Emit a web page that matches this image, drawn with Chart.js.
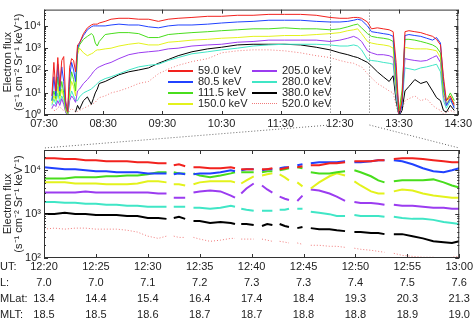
<!DOCTYPE html>
<html>
<head>
<meta charset="utf-8">
<script src="https://cdn.jsdelivr.net/npm/chart.js@4.4.1/dist/chart.umd.min.js"></script>
<style>
  html, body { margin: 0; padding: 0; background: #fff; }
  #wrap { position: relative; width: 474px; height: 321px; overflow: hidden; font-family: 'Liberation Sans', Arial, sans-serif; }
  #wrap canvas { position: absolute; left: 0; }
  #topChart { top: 0; }
  #lowerChart { top: 132px; }
  #overlay { top: 0; pointer-events: none; }
  .legend-item { position: absolute; height: 11px; font-size: 11px; line-height: 11px; color: #222; white-space: nowrap; }
  .legend-item .swatch { position: absolute; left: 0; top: 5px; width: 25px; border-top: 2px solid; }
  .legend-item span { position: absolute; left: 30px; top: 0; }
</style>
</head>
<body>
<div id="wrap">
  <canvas id="topChart" width="474" height="132"></canvas>
  <canvas id="lowerChart" width="474" height="189"></canvas>
  <canvas id="overlay" width="474" height="321"></canvas>
  <div id="legend"></div>
</div>
<script>
// ---- data ----
const energyLabels = ['59.0 keV', '80.5 keV', '111.5 keV', '150.0 keV', '205.0 keV', '280.0 keV', '380.0 keV', '520.0 keV'];

// upper panel: minutes after 07:30 UT
const topMinutes = [8, 10, 12, 14, 16, 18, 20, 22, 24, 26, 28, 30, 32, 34, 36, 40, 44, 48, 50, 52, 54, 56, 62, 68, 76, 86, 96, 106, 116, 126, 136, 150, 166, 180, 196, 212, 228, 244, 260, 276, 290, 300, 308, 314, 318, 322, 328, 332, 338, 344, 350, 354, 357, 360, 363, 366, 370, 376, 382, 388, 394, 398, 402, 405, 408, 412, 416];
const topTickMinutes = [0, 60, 120, 180, 240, 300, 360, 420];
const topTickLabels = ['07:30', '08:30', '09:30', '10:30', '11:30', '12:30', '13:30', '14:30'];
const topYTicks = [1, 10, 100, 1000, 10000];
const topYLabels = ['10\u2070', '10\u00b9', '10\u00b2', '10\u00b3', '10\u2074'];
const zoomStart = 290; // 12:20
const zoomEnd = 330;   // 13:00

const top59 = [7.2, 230, 12, 380, 19, 280, 420, 4.4, 1.4, 140, 340, 280, 87, 1400, 1700, 4500, 8200, 11000, 12000, 12000, 12000, 13500, 16000, 20000, 22000, 22000, 20000, 20000, 16000, 20000, 22000, 24000, 27000, 27000, 30000, 30000, 33000, 33000, 33000, 30000, 24000, 22000, 22000, 24000, 24000, 22000, 15000, 7400, 8200, 7400, 6700, 5500, 230, 0.9, 4.4, 5500, 6100, 5500, 5000, 4100, 3400, 2500, 1400, 52, 4.4, 7.2, 2.7];
const top80 = [4.4, 52, 7.2, 190, 12, 145, 32, 2.7, 1.35, 52, 230, 105, 32, 1000, 1700, 3700, 6700, 9100, 10000, 10000, 10000, 10000, 10000, 11000, 12000, 11000, 11000, 9100, 8200, 10000, 11000, 11000, 12000, 13500, 15000, 16000, 18000, 18000, 18000, 16000, 15000, 15000, 16000, 18000, 20000, 18000, 10000, 5500, 5000, 4500, 4100, 3400, 87, 0.9, 2.7, 3700, 4100, 3700, 3400, 2800, 2300, 3000, 1700, 32, 2.7, 5.4, 2.0];
const top111 = [4.4, 12, 5.4, 52, 7.2, 32, 9.8, 2.0, 1.2, 19, 87, 39, 12, 760, 1400, 2500, 3400, 4500, 3700, 1700, 1250, 2000, 4100, 4500, 5000, 5000, 4500, 3000, 3000, 4100, 4500, 5000, 5500, 6100, 6700, 7400, 7400, 8200, 7400, 7400, 6700, 7400, 9100, 11000, 12000, 8200, 4500, 3400, 3000, 2800, 2500, 2000, 32, 1.6, 12, 2500, 2500, 2300, 2000, 1700, 1400, 1100, 620, 12, 4.4, 9.8, 4.4];
const top150 = [3.3, 7.2, 4.4, 19, 5.4, 14.5, 6.3, 1.6, 1.1, 9.8, 32, 19, 7.2, 510, 1000, 620, 460, 560, 620, 760, 840, 840, 930, 1000, 1250, 1500, 1700, 1400, 1400, 1850, 2000, 2300, 2500, 2800, 3000, 3400, 3400, 3700, 3700, 4100, 4500, 5000, 6100, 6700, 7400, 4500, 2000, 1700, 1500, 1400, 1250, 1000, 19, 1.35, 7.2, 1100, 1000, 930, 930, 930, 840, 760, 380, 9.8, 3.0, 7.2, 3.3];
const top205 = [2.0, 3.0, 2.4, 4.4, 2.7, 5.4, 3.0, 1.35, 0.9, 4.4, 7.2, 5.4, 3.7, 12, 14.5, 26, 39, 64, 87, 105, 130, 145, 190, 230, 340, 510, 620, 690, 760, 930, 1000, 1250, 1400, 1500, 1850, 2000, 2300, 2300, 2300, 2300, 2000, 2300, 2800, 3400, 2800, 2000, 760, 620, 510, 510, 460, 380, 12, 1.2, 4.4, 340, 310, 280, 260, 280, 380, 460, 230, 7.2, 2.7, 6.0, 3.3];
const top280 = [2.7, 5.4, 3.0, 9.8, 3.7, 7.2, 4.4, 1.35, 0.9, 5.4, 12, 7.2, 4.4, 4.4, 6.5, 9.8, 12, 14.5, 18, 21, 26, 32, 43, 52, 71, 105, 145, 170, 190, 280, 380, 560, 690, 840, 1000, 1250, 1400, 1500, 1500, 1500, 1400, 1250, 1250, 1400, 1250, 840, 310, 280, 260, 230, 210, 190, 7.2, 0.9, 2.7, 130, 120, 105, 130, 145, 170, 190, 87, 4.4, 2.0, 4.4, 2.4];
const top380 = [null, null, null, null, null, null, null, null, null, null, null, null, 1.35, 2.7, 1.8, 4.4, 6.5, 3.0, 5.4, 9.8, 14.5, 26, 32, 43, 64, 87, 105, 130, 210, 310, 460, 690, 930, 1100, 1400, 1500, 1500, 1500, 1400, 1100, 840, 620, 510, 420, 380, 310, 230, 160, 87, 52, 32, 58, 4.4, 0.9, 1.6, 12, 19, 39, 26, 32, 12, 6.0, 4.4, 1.6, 1.35, 2.7, 1.6];
const top520 = [2.0, 1.6, 1.6, 2.2, 2.4, 1.8, 1.6, 1.35, 1.1, 1.6, 2.0, 1.6, 1.35, 1.45, 1.6, 2.0, 2.4, 3.0, 3.3, 3.7, 4.9, 6.0, 7.2, 9.8, 12, 17, 26, 32, 71, 115, 170, 250, 340, 620, 760, 840, 840, 760, 620, 460, 380, 280, 230, 210, 170, 145, 71, 47, 26, 18, 12, 9.8, 2.7, 0.9, 1.6, 4.4, 5.4, 7.2, 4.4, 5.4, 2.7, 2.0, 1.6, 1.1, 1.35, 1.6, 1.35];

// lower panel: minutes after 12:20 UT (null = data gap)
const lowerMinutes = [0, 1, 2, 3, 4, 5, 6, 7, 8, 9, 10, 11, 11.8, 12.1, 12.5, 13, 13.6, 14, 14.4, 15, 16, 17, 18, 18.4, 18.7, 19, 19.5, 20.2, 20.6, 21, 21.5, 22, 22.3, 22.7, 23.2, 23.6, 24, 24.4, 24.9, 25.3, 25.7, 26.5, 27.5, 28.2, 29, 29.4, 29.9, 30.5, 31.5, 32.2, 32.8, 33.2, 33.7, 34.5, 35.5, 36.5, 37.5, 38.5, 39.3, 40];
const lowerTickMinutes = [0, 5, 10, 15, 20, 25, 30, 35, 40];
const utLabels = ['12:20', '12:25', '12:30', '12:35', '12:40', '12:45', '12:50', '12:55', '13:00'];
const lLabels = ['7.0', '7.0', '7.1', '7.2', '7.3', '7.3', '7.4', '7.5', '7.6'];
const mlatLabels = ['13.4', '14.4', '15.4', '16.4', '17.4', '18.4', '19.3', '20.3', '21.3'];
const mltLabels = ['18.5', '18.5', '18.6', '18.7', '18.7', '18.8', '18.8', '18.9', '19.0'];
const rowHeadings = ['UT:', 'L:', 'MLat:', 'MLT:'];
const lowerYTicks = [100, 1000, 10000];
const lowerYLabels = ['10\u00b2', '10\u00b3', '10\u2074'];

const low59 = [18900, 18900, 18000, 18000, 17000, 17000, 16000, 16000, 16000, 15300, 15300, 14500, 14500, null, 13000, 13700, 12400, null, 11700, 11700, 11100, 11100, 11700, 11100, null, 10500, 10500, 10500, null, 10500, 10500, 11100, null, 10500, 11100, 11700, null, 11700, 12400, null, 13000, 13000, 14500, 14500, 15300, null, 16000, 16000, 16000, 17000, 17000, null, 18000, 18900, 18900, 18000, 17000, 16000, 15300, 15300];
const low80 = [11700, 11100, 10500, 10500, 10000, 9500, 9500, 9000, 9000, 9000, 8500, 8500, 8500, null, 8100, 8500, 8100, null, 8100, 8500, 8500, 9000, 10000, 9500, null, 10000, 10500, 10500, null, 10000, 10500, 10500, null, 11100, 11700, 11700, null, 13000, 13700, null, 14500, 15300, 15300, 15300, 16000, null, 15300, 15300, 16000, 17000, 17000, null, 17000, 16000, 13700, 11100, 9500, 9000, 10000, 11100];
const low111 = [6500, 6500, 6500, 6900, 6900, 6900, 7300, 7300, 7600, 7600, 8100, 9000, 9000, null, 9000, 8500, 8500, null, 8500, 7600, 6900, 7600, 8500, 9000, null, 9000, 9000, 9000, null, 9000, 9500, 9500, null, 10000, 10500, 11100, null, 11700, 11100, null, 9000, 8500, 8500, 9000, 9500, null, 10000, 9000, 7300, 5900, 5300, null, 5600, 5900, 5900, 5900, 6200, 5300, 4500, 4050];
const low150 = [5300, 5300, 5300, 5000, 5000, 5000, 4800, 4800, 4800, 5000, 5600, 5600, 5300, null, 4800, 4800, 4500, null, 4800, 5300, 5600, 5600, 5600, 5300, null, 5000, 5900, 7300, null, 7600, 8100, 8500, null, 8100, 6900, 5900, null, 5300, 4300, null, 3850, 5300, 7300, 8500, 7600, null, 5600, 4500, 3300, 2950, 2950, null, 3300, 3650, 3450, 2950, 2650, 2500, 2370, 2370];
const low205 = [3100, 3100, 3100, 3100, 3300, 3100, 3100, 3100, 3100, 3100, 3100, 2950, 2950, null, 2370, 2370, 2370, null, 3100, 3300, 3450, 3300, 2650, 2370, null, 2950, 3850, 5000, null, 4500, 3650, 3100, null, 2500, 2250, 2100, null, 2000, 2650, null, 3650, 3450, 2950, 2500, 2000, null, 1900, 1800, 1800, 1730, 1640, null, 1640, 1550, 1550, 1470, 1400, 1400, 1330, 1330];
const low280 = [1900, 1900, 1820, 1820, 1730, 1730, 1640, 1640, 1550, 1550, 1470, 1470, 1470, null, 1470, 1470, 1470, null, 1400, 1400, 1330, 1400, 1550, 1470, null, 1330, 1260, 1190, null, 1190, 1190, 1190, null, 1260, 1260, 1330, null, 1330, 1330, null, 1130, 1070, 1000, 910, 910, null, 960, 910, 910, 910, 870, null, 870, 820, 780, 780, 740, 660, 630, 595];
const low380 = [1010, 1010, 1070, 1010, 1010, 960, 960, 960, 910, 910, 820, 820, 780, null, 820, 870, 780, null, 700, 700, 630, 660, 630, 595, null, 595, 595, 565, null, 535, 595, 565, null, 595, 535, 510, null, 480, 510, null, 480, 455, 455, 430, 410, null, 390, 390, 370, 370, 350, null, 350, 350, 315, 280, 240, 230, 220, 240];
const low520 = [455, 480, 455, 480, 480, 455, 455, 455, 430, 390, 315, 280, 315, null, 315, 295, 295, null, 295, 270, 240, 255, 280, 280, null, 270, 270, 270, null, 270, 255, 240, null, 240, 230, 220, null, 220, 205, null, 195, 195, 185, 185, 175, null, 167, 158, 150, 142, 135, null, 128, 115, 109, 104, 104, 97, 104, 109];

const topSeries = [top59, top80, top111, top150, top205, top280, top380, top520];
const lowerSeries = [low59, low80, low111, low150, low205, low280, low380, low520];

// ---- styling ----
const seriesColors = ['#f2221e', '#2142ff', '#48dd1c', '#e3f21c', '#9b3cf0', '#40e6c6', '#000000', '#f07a7a'];
const FONT = "'Liberation Sans', Arial, sans-serif";
Chart.defaults.font.family = FONT;
Chart.defaults.font.size = 11;
Chart.defaults.color = '#222';
Chart.defaults.animation = false;

const framePlugin = {
    id: 'frame',
    afterDatasetsDraw(chart, args, opts) {
        const { ctx, chartArea: a, scales: { x, y } } = chart;
        ctx.save();
        ctx.strokeStyle = '#333';
        ctx.lineWidth = 1;
        ctx.strokeRect(a.left + 0.5, a.top + 0.5, a.width - 1, a.height - 1);
        ctx.beginPath();
        x.ticks.forEach(t => {
            const px = Math.round(x.getPixelForValue(t.value)) + 0.5;
            ctx.moveTo(px, a.bottom);
            ctx.lineTo(px, a.bottom - 4);
            ctx.moveTo(px, a.top);
            ctx.lineTo(px, a.top + 4);
        });
        const lo = Math.floor(Math.log10(y.min));
        const hi = Math.ceil(Math.log10(y.max));
        for (let e = lo; e <= hi; e++) {
            for (let m = 1; m < 10; m++) {
                const v = m * Math.pow(10, e);
                if (v < y.min || v > y.max) continue;
                const py = Math.round(y.getPixelForValue(v)) + 0.5;
                const len = m === 1 ? 4 : 2;
                ctx.moveTo(a.left, py);
                ctx.lineTo(a.left + len, py);
                ctx.moveTo(a.right, py);
                ctx.lineTo(a.right - len, py);
            }
        }
        ctx.stroke();

        // zoom window markers in the upper panel
        if (opts && opts.markers) {
            ctx.strokeStyle = '#666';
            ctx.setLineDash([1, 2]);
            ctx.beginPath();
            opts.markers.forEach(v => {
                const px = Math.round(x.getPixelForValue(v)) + 0.5;
                ctx.moveTo(px, a.top);
                ctx.lineTo(px, a.bottom);
            });
            ctx.stroke();
        }
        ctx.restore();
    }
};

const rowHeadingPlugin = {
    id: 'rowHeadings',
    afterDraw(chart) {
        const { ctx, scales: { x } } = chart;
        ctx.save();
        ctx.font = '11px ' + FONT;
        ctx.fillStyle = '#222';
        ctx.textAlign = 'left';
        ctx.textBaseline = 'middle';
        rowHeadings.forEach((h, i) => {
            ctx.fillText(h, 0, x.top + 9 + i * 16);
        });
        ctx.restore();
    }
};

function makeDatasets(times, seriesList, width) {
    return seriesList.map((vals, i) => ({
        label: energyLabels[i],
        data: times.map((t, k) => ({ x: t, y: vals[k] })),
        borderColor: seriesColors[i],
        borderWidth: i === 7 ? 1 : width,
        borderDash: i === 7 ? [1, 2] : [],
        pointRadius: 0,
        tension: 0,
        spanGaps: false
    }));
}

function yAxis(min, max, tickValues, tickLabels) {
    return {
        type: 'logarithmic',
        min: min,
        max: max,
        afterBuildTicks: s => { s.ticks = tickValues.map(v => ({ value: v })); },
        afterFit: s => { s.width = 44; },
        ticks: { padding: 3, callback: (v, i) => tickLabels[i] },
        grid: { display: false, drawTicks: false },
        border: { display: false },
        title: {
            display: true,
            text: ['Electron flux', '(s\u207b\u00b9 cm\u207b\u00b2 Sr\u207b\u00b9 keV\u207b\u00b9)'],
            font: { size: 11, lineHeight: 1 },
            padding: { top: 2, bottom: 0 }
        }
    };
}

const topChart = new Chart(document.getElementById('topChart'), {
    type: 'line',
    data: { datasets: makeDatasets(topMinutes, topSeries, 1) },
    options: {
        responsive: false,
        layout: { autoPadding: false, padding: { top: 5, right: 13, bottom: 0, left: 0 } },
        plugins: { legend: { display: false }, tooltip: { enabled: false }, frame: { markers: [zoomStart, zoomEnd] } },
        scales: {
            x: {
                type: 'linear',
                min: 0,
                max: 420,
                afterBuildTicks: s => { s.ticks = topTickMinutes.map(v => ({ value: v })); },
                afterFit: s => { s.height = 17; },
                ticks: { padding: 2, maxRotation: 0, autoSkip: false, callback: (v, i) => topTickLabels[i] },
                grid: { display: false, drawTicks: false },
                border: { display: false }
            },
            y: yAxis(1, 54000, topYTicks, topYLabels)
        }
    },
    plugins: [framePlugin]
});

const lowerChart = new Chart(document.getElementById('lowerChart'), {
    type: 'line',
    data: { datasets: makeDatasets(lowerMinutes, lowerSeries, 2) },
    options: {
        responsive: false,
        layout: { autoPadding: false, padding: { top: 18, right: 13, bottom: 0, left: 0 } },
        plugins: { legend: { display: false }, tooltip: { enabled: false } },
        scales: {
            x: {
                type: 'linear',
                min: 0,
                max: 40,
                afterBuildTicks: s => { s.ticks = lowerTickMinutes.map(v => ({ value: v })); },
                afterFit: s => { s.height = 63; },
                ticks: {
                    padding: 1,
                    maxRotation: 0,
                    autoSkip: false,
                    font: { size: 11, lineHeight: '16px' },
                    callback: (v, i) => [utLabels[i], lLabels[i], mlatLabels[i], mltLabels[i]]
                },
                grid: { display: false, drawTicks: false },
                border: { display: false }
            },
            y: yAxis(100, 29000, lowerYTicks, lowerYLabels)
        }
    },
    plugins: [framePlugin, rowHeadingPlugin]
});

// dotted connectors from the zoom window to the lower panel
function drawConnectors() {
    const ctx = document.getElementById('overlay').getContext('2d');
    const xs = topChart.scales.x;
    const low = lowerChart.chartArea;
    const lowerOffset = 132;
    const yStart = topChart.chartArea.bottom + 10;
    ctx.strokeStyle = '#666';
    ctx.lineWidth = 1;
    ctx.setLineDash([1, 2]);
    ctx.beginPath();
    ctx.moveTo(xs.getPixelForValue(zoomStart), yStart);
    ctx.lineTo(low.left, lowerOffset + low.top - 2);
    ctx.moveTo(xs.getPixelForValue(zoomEnd), yStart);
    ctx.lineTo(low.right, lowerOffset + low.top - 2);
    ctx.stroke();
}
drawConnectors();

// legend: two columns inside the upper panel
function buildLegend() {
    const box = document.getElementById('legend');
    energyLabels.forEach((lab, i) => {
        const col = Math.floor(i / 4);
        const row = i % 4;
        const item = document.createElement('div');
        item.className = 'legend-item';
        item.style.left = (168 + col * 84) + 'px';
        item.style.top = (65 + row * 11) + 'px';
        const sw = document.createElement('div');
        sw.className = 'swatch';
        sw.style.borderTopColor = seriesColors[i];
        if (i === 7) { sw.style.borderTopStyle = 'dotted'; sw.style.borderTopWidth = '1px'; }
        const txt = document.createElement('span');
        txt.textContent = lab;
        item.appendChild(sw);
        item.appendChild(txt);
        box.appendChild(item);
    });
}
buildLegend();
</script>
</body>
</html>
